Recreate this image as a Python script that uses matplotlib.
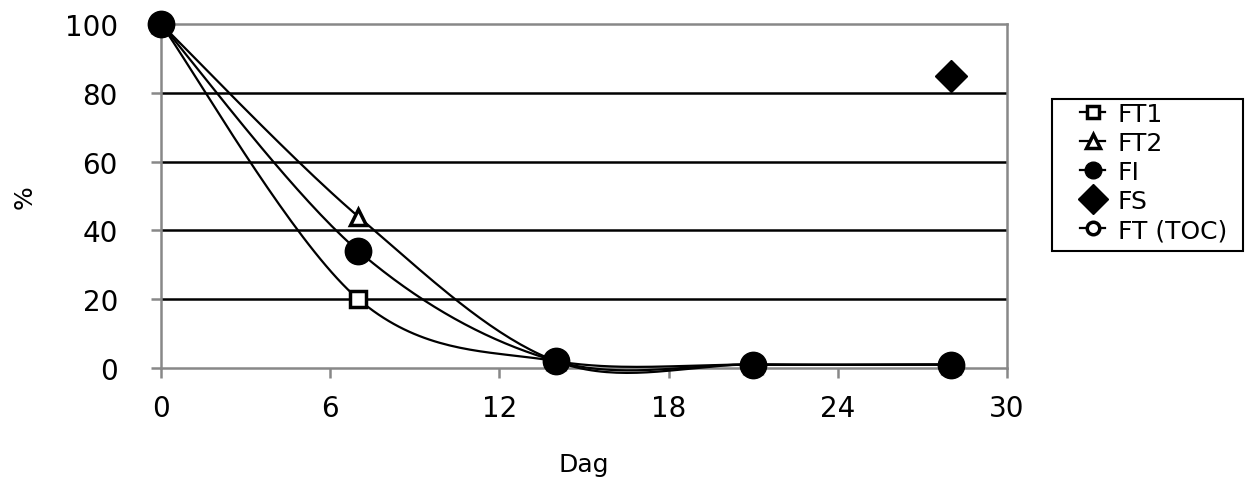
import numpy as np
import matplotlib
matplotlib.use("Agg")
import matplotlib.pyplot as plt
from matplotlib.patches import Rectangle

# day of measurement and remaining percentage per series
dag = [0, 7, 14, 21, 28]
ft1 = [100, 20, 2, 1, 1]
ft2 = [100, 44, 2, 1, 1]
fi = [100, 34, 2, 1, 1]
fs_dag = [28]
fs = [85]
toc_dag = []
toc = []


def excel_smooth(x, y, n=40):
    # Excel-style smoothed line: cubic bezier through points, tangent = (next - prev)/6
    x = np.asarray(x, float)
    y = np.asarray(y, float)
    if len(x) < 3:
        return x, y
    px = np.concatenate([[x[0]], x, [x[-1]]])
    py = np.concatenate([[y[0]], y, [y[-1]]])
    xs, ys = [], []
    t = np.linspace(0, 1, n)
    for i in range(1, len(x)):
        p0 = np.array([px[i], py[i]])
        p3 = np.array([px[i + 1], py[i + 1]])
        c1 = p0 + (np.array([px[i + 1], py[i + 1]]) - np.array([px[i - 1], py[i - 1]])) / 6
        c2 = p3 - (np.array([px[i + 2], py[i + 2]]) - np.array([px[i], py[i]])) / 6
        b = ((1 - t) ** 3)[:, None] * p0 + (3 * (1 - t) ** 2 * t)[:, None] * c1 \
            + (3 * (1 - t) * t ** 2)[:, None] * c2 + (t ** 3)[:, None] * p3
        xs.extend(b[:, 0])
        ys.extend(b[:, 1])
    return np.array(xs), np.array(ys)


W, H = 1245, 481
fig = plt.figure(figsize=(W / 100, H / 100), dpi=100)
ax = fig.add_axes([161 / W, 1 - 369 / H, 846 / W, 344 / H])

lw = 1.6
series = [
    (dag, ft1, "FT1", dict(marker="s", ms=11, mfc="white", mew=2.5), 9),
    (dag, ft2, "FT2", dict(marker="^", ms=12, mfc="white", mew=2.5), 10),
    (dag, fi, "FI", dict(marker="o", ms=19, mfc="black", mew=1), 12),
    (fs_dag, fs, "FS", dict(marker="D", ms=16, mfc="black", mew=1), 15),
    (toc_dag, toc, "FT (TOC)", dict(marker="o", ms=9, mfc="white", mew=2.5), 9),
]
handles = []
for x, y, name, st, leg_ms in series:
    sx, sy = excel_smooth(x, y)
    ax.plot(sx, sy, color="black", lw=lw, zorder=3, clip_on=False)
    ax.plot(x, y, ls="none", color="black", mec="black", zorder=4, clip_on=False, **st)
    leg_st = dict(st)
    leg_st["ms"] = leg_ms
    h, = ax.plot([], [], color="black", lw=lw, mec="black", label=name, **leg_st)
    handles.append(h)

ax.set_xlim(0, 30)
ax.set_ylim(0, 100)
ax.set_xticks([0, 6, 12, 18, 24, 30])
ax.set_yticks([0, 20, 40, 60, 80, 100])
for v in [20, 40, 60, 80]:
    ax.axhline(v, color="black", lw=1.8, zorder=1)
for s in ax.spines.values():
    s.set_color("#888888")
    s.set_linewidth(1.8)
ax.tick_params(axis="both", direction="out", length=7, width=1.8, color="#888888",
               labelsize=20)
ax.tick_params(axis="x", pad=12)
ax.tick_params(axis="y", pad=24)

fig.text(584 / W, 1 - 465 / H, "Dag", fontsize=18, ha="center", va="center")
fig.text(25 / W, 1 - 197 / H, "%", fontsize=18, ha="center", va="center", rotation=90)

# legend frame drawn by hand so the box matches the original size
fig.patches.append(Rectangle((1052 / W, 1 - 252 / H), 191 / W, 152 / H,
                             transform=fig.transFigure, fill=False, ec="black", lw=1.5))
leg = fig.legend(handles=handles, loc="upper left", bbox_to_anchor=(1080 / W, 1 - 103 / H),
                 fontsize=18, frameon=False, handlelength=1.0, handletextpad=0.5,
                 labelspacing=0.2, borderpad=0, borderaxespad=0)

fig.savefig("out.png", dpi=100)
